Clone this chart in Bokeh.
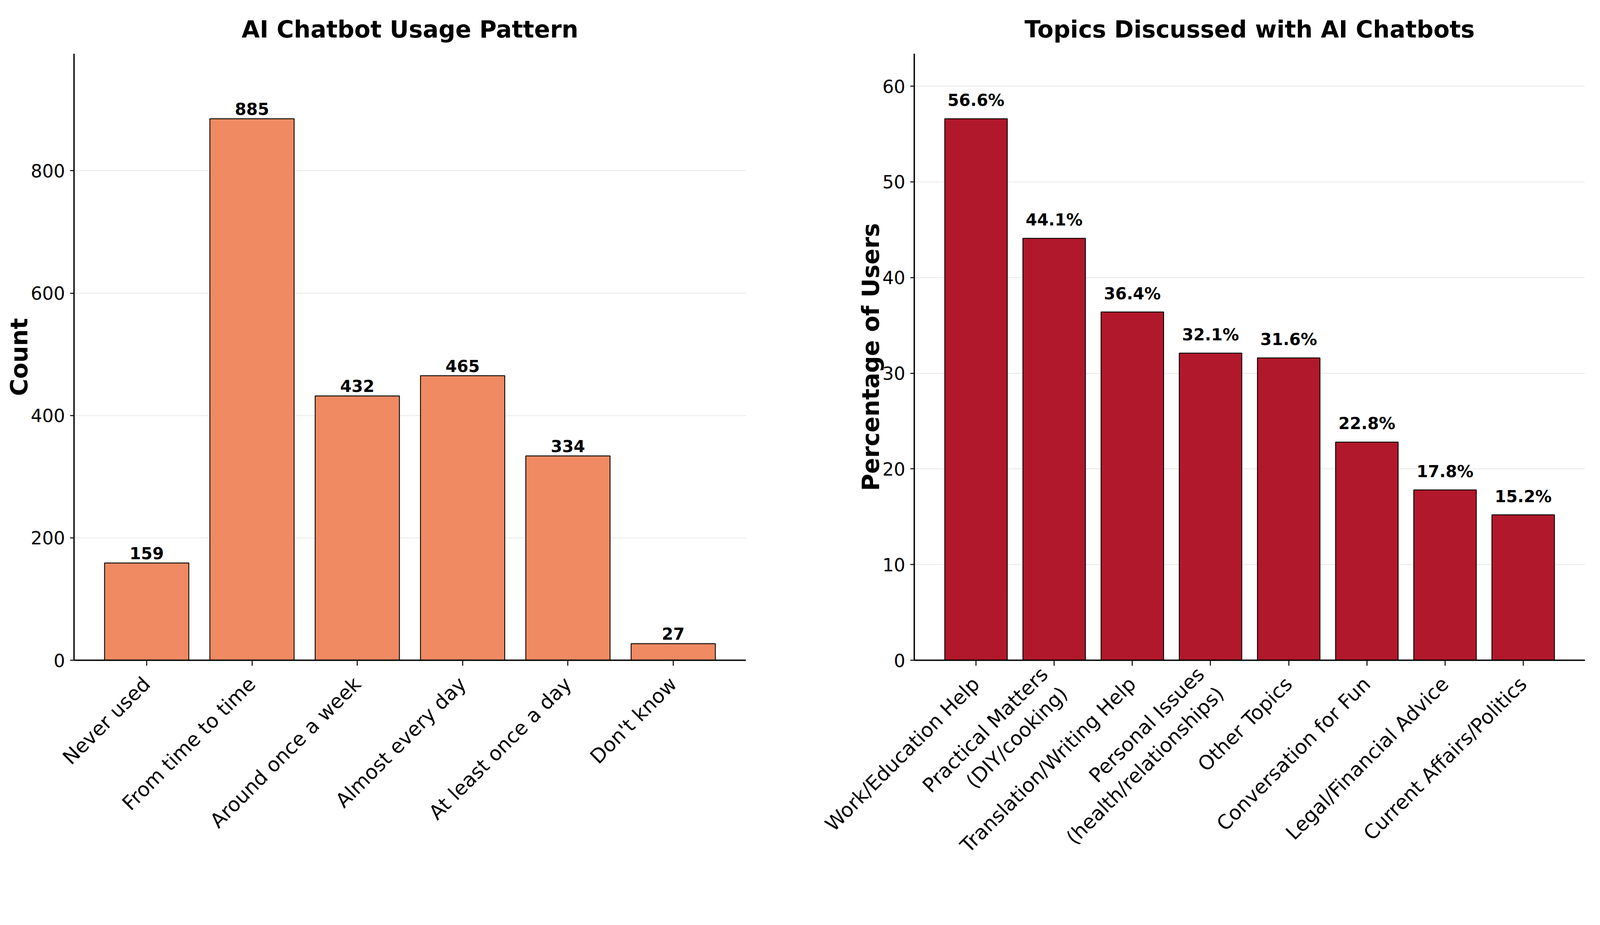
import math
from bokeh.plotting import figure
from bokeh.layouts import row
from bokeh.models import Range1d, FixedTicker
from bokeh.core.properties import value
from bokeh.embed import file_html
from bokeh.resources import INLINE

# ---- data ----
usage_categories = ["Never used", "From time to time", "Around once a week",
                    "Almost every day", "At least once a day", "Don't know"]
usage_counts = [159, 885, 432, 465, 334, 27]
usage_ticks = [0, 200, 400, 600, 800]

topic_categories = ["Work/Education Help", "Practical Matters\n(DIY/cooking)",
                    "Translation/Writing Help", "Personal Issues\n(health/relationships)",
                    "Other Topics", "Conversation for Fun", "Legal/Financial Advice",
                    "Current Affairs/Politics"]
topic_pcts = [56.6, 44.1, 36.4, 32.1, 31.6, 22.8, 17.8, 15.2]
topic_ticks = [0, 10, 20, 30, 40, 50, 60]

FONT = "DejaVu Sans"
KX = 1 / 1.46   # horizontal layout scale (viewport is narrower than the reference)
KY = 1.0        # vertical layout scale

TITLE_PX = 60
YLABEL_PX = 60
YTICK_PX = 46
XTICK_PX = 51
VALUE_PX = 42


def sx(v):
    return int(round(v * KX))


def sy(v):
    return int(round(v * KY))


H = sy(2351)


def make_fig(cats, vals, ticks, color, title, ylabel, labels, width,
             border_left, border_right, gap):
    n = len(cats)
    xs = list(range(n))
    pad = (n - 1 + 0.8) * 0.05
    p = figure(width=sx(width), height=H,
               x_range=Range1d(-0.4 - pad, n - 1 + 0.4 + pad),
               y_range=Range1d(0, max(vals) * 1.12),
               output_backend="svg", toolbar_location=None,
               min_border_left=sx(border_left),
               min_border_right=sx(border_right),
               min_border_top=sy(137),
               min_border_bottom=sy(662))
    p.vbar(x=xs, top=vals, bottom=0, width=0.8, fill_color=color,
           line_color="black", line_width=2.2)
    p.text(x=xs, y=vals, text=labels, text_align="center",
           text_baseline="middle", y_offset=-(gap + 0.365 * VALUE_PX),
           text_font=value(FONT), text_font_style="bold",
           text_font_size=f"{VALUE_PX}px", text_color="black")

    p.title.text = title
    p.title.align = "center"
    p.title.text_font = FONT
    p.title.text_font_size = f"{TITLE_PX}px"
    p.title.text_font_style = "bold"
    p.title.text_color = "black"
    p.title.standoff = 56

    p.outline_line_color = None
    p.background_fill_color = "white"
    p.border_fill_color = "white"

    p.xgrid.grid_line_color = None
    p.ygrid.ticker = FixedTicker(ticks=ticks)
    p.ygrid.grid_line_color = "#b0b0b0"
    p.ygrid.grid_line_alpha = 0.3
    p.ygrid.grid_line_width = 2

    xa = p.xaxis[0]
    xa.ticker = FixedTicker(ticks=xs)
    xa.major_label_overrides = {i: c for i, c in enumerate(cats)}
    xa.major_label_orientation = math.pi / 4
    xa.major_label_text_font = FONT
    xa.major_label_text_font_size = f"{XTICK_PX}px"
    xa.major_label_standoff = 38
    xa.major_label_text_color = "black"
    xa.minor_tick_line_color = None
    xa.major_tick_out = sy(14)
    xa.major_tick_in = 0
    xa.major_tick_line_width = 2.5
    xa.axis_line_width = 3.5

    ya = p.yaxis[0]
    ya.ticker = FixedTicker(ticks=ticks)
    ya.major_label_text_font = FONT
    ya.major_label_text_font_size = f"{YTICK_PX}px"
    ya.major_label_standoff = sx(19)
    ya.major_label_text_color = "black"
    ya.minor_tick_line_color = None
    ya.major_tick_out = sx(14)
    ya.major_tick_in = 0
    ya.major_tick_line_width = 2.5
    ya.axis_line_width = 3.5
    ya.axis_label = ylabel
    ya.axis_label_text_font = FONT
    ya.axis_label_text_font_size = f"{YLABEL_PX}px"
    ya.axis_label_text_font_style = "bold"
    ya.axis_label_text_color = "black"
    ya.axis_label_standoff = -8
    return p


p1 = make_fig(usage_categories, usage_counts, usage_ticks, "#ef8a62",
              "AI Chatbot Usage Pattern", "Count",
              [str(v) for v in usage_counts], 2992, 276, 204, 10)
p2 = make_fig(topic_categories, topic_pcts, topic_ticks, "#b2182b",
              "Topics Discussed with AI Chatbots", "Percentage of Users",
              [f"{v:.1f}%" for v in topic_pcts], 2958, 425, 26, 32)

layout = row(p1, p2)
open("out.html", "w").write(file_html(layout, INLINE))
